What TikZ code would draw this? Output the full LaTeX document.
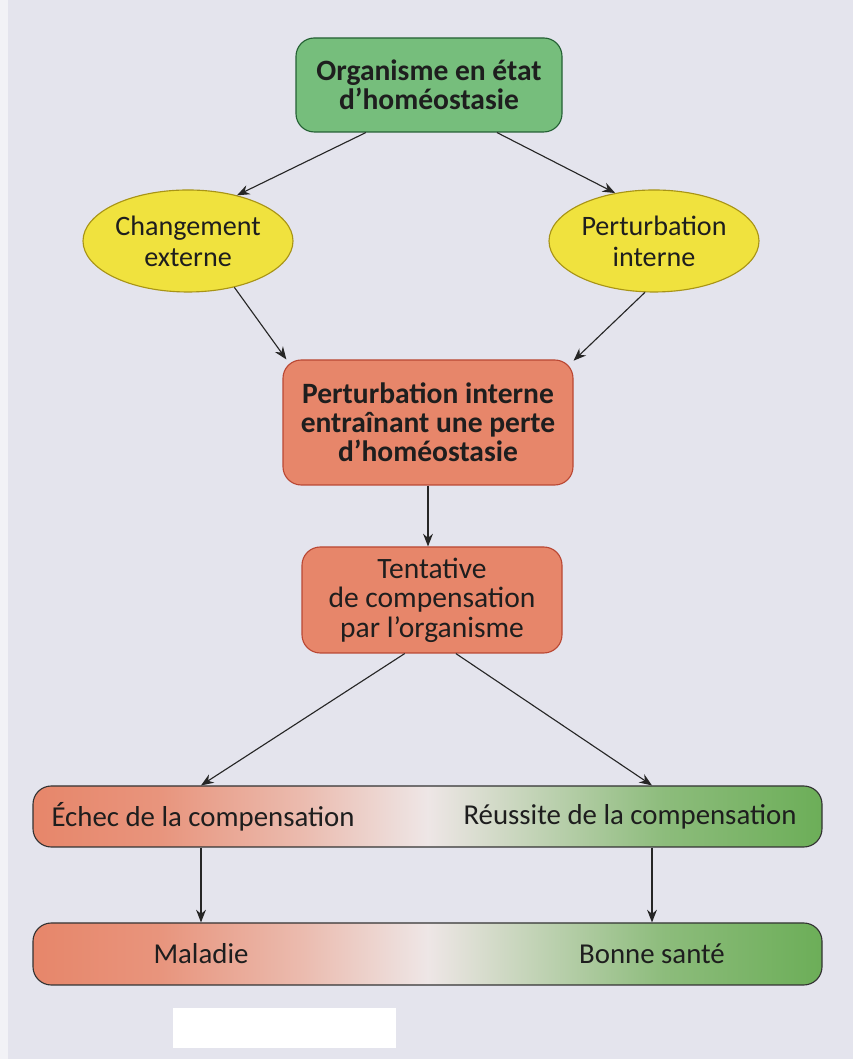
\documentclass[tikz,border=0pt]{standalone}
\usepackage{fontspec}
\setmainfont{Carlito}
\usepackage{tikz}
\usetikzlibrary{shapes.geometric}
\usetikzlibrary{arrows.meta}

\definecolor{fondpage}{RGB}{228,228,237}
\definecolor{bordpage}{RGB}{242,242,246}
\definecolor{vertbox}{RGB}{118,190,124}
\definecolor{vertbord}{RGB}{36,96,52}
\definecolor{jaune}{RGB}{240,226,62}
\definecolor{jaunebord}{RGB}{168,148,22}
\definecolor{saumon}{RGB}{231,134,106}
\definecolor{saumonbord}{RGB}{186,72,52}
\definecolor{vertbar}{RGB}{108,174,88}
\definecolor{pale}{RGB}{238,230,230}
\definecolor{encre}{RGB}{30,30,30}

\pgfdeclarehorizontalshading{barshade}{100bp}{color(0bp)=(saumon); color(25bp)=(saumon); color(33bp)=(saumon!85!pale); color(42bp)=(saumon!45!pale); color(50bp)=(pale); color(56bp)=(vertbar!30!pale); color(65bp)=(vertbar!75!pale); color(75bp)=(vertbar); color(100bp)=(vertbar)}

\tikzset{
  greenbox/.style={rectangle, draw=vertbord, thick, fill=vertbox, rounded corners=13pt, align=center, text=encre},
  redbox/.style={rectangle, draw=saumonbord, thick, fill=saumon, rounded corners=13pt, align=center, text=encre},
  yellowell/.style={ellipse, draw=jaunebord, thick, fill=jaune, align=center, inner sep=0pt, text=encre, font=\fontsize{20}{22}\selectfont},
  bar/.style={rectangle, draw=black!80, thick, rounded corners=13pt, shading=barshade},
  bartext/.style={text=encre, font=\fontsize{20.5}{22}\selectfont},
  fleche/.style={black!85, thick, -{Stealth[length=9pt,width=7pt]}}
}

\begin{document}
\begin{tikzpicture}

\newcommand\barw{19.725cm}

\fill[fondpage] (0,0) rectangle (21.325,26.475);
\fill[bordpage] (0,0) rectangle (0.2,26.475);

\node at (10.725,24.35) [greenbox, minimum width=6.65cm, minimum height=2.35cm, font=\fontsize{21}{21}\selectfont\bfseries] (etat) 
				{Organisme en état\\d’homéostasie};

\node at (4.7,20.45) [yellowell, minimum width=5.25cm, minimum height=2.55cm] (externe) {Changement\\externe};
\node at (16.35,20.45) [yellowell, minimum width=5.25cm, minimum height=2.55cm] (interne) {Perturbation\\interne};

\node at (10.7,15.9125) [redbox, minimum width=7.25cm, minimum height=3.125cm, font=\fontsize{21}{20.5}\selectfont\bfseries] (perte) 
				{Perturbation interne\\entraînant une perte\\d’homéostasie};
\node at (10.8,11.475) [redbox, minimum width=6.5cm, minimum height=2.65cm, font=\fontsize{21}{21}\selectfont] (tentative) 
				{Tentative\\de compensation\\par l’organisme};

\node at (10.6875,6.0625) [bar, minimum width=\barw, minimum height=1.525cm] (compens) {};
\node at (5.075,6.0625) [bartext] (echec) {Échec de la compensation};
\node at (15.75,6.0625) [bartext] (reussite) {Réussite de la compensation};

\node at (10.6875,2.625) [bar, minimum width=\barw, minimum height=1.55cm] (issue) {};
\node at (5.025,2.625) [bartext] (maladie) {Maladie};
\node at (16.3,2.625) [bartext] (sante) {Bonne santé};

\fill[white] (4.325,0.275) rectangle (9.9,1.275);

\draw[fleche] (etat.217) -- (externe.43);
\draw[fleche] (etat.-35) -- (interne.129);
\draw[fleche] (externe.-45) -- (perte.156);
\draw[fleche] (interne.-100) -- (perte.23.5);
\draw[fleche] (perte) -- (tentative.north -| perte);
\draw[fleche] (tentative.-117) -- (maladie |- compens.north);
\draw[fleche] (tentative.-66) -- (sante |- compens.north);
\draw[fleche] (maladie |- compens.south) -- (maladie |- issue.north);
\draw[fleche] (sante |- compens.south) -- (sante |- issue.north);

\end{tikzpicture}
\end{document}
